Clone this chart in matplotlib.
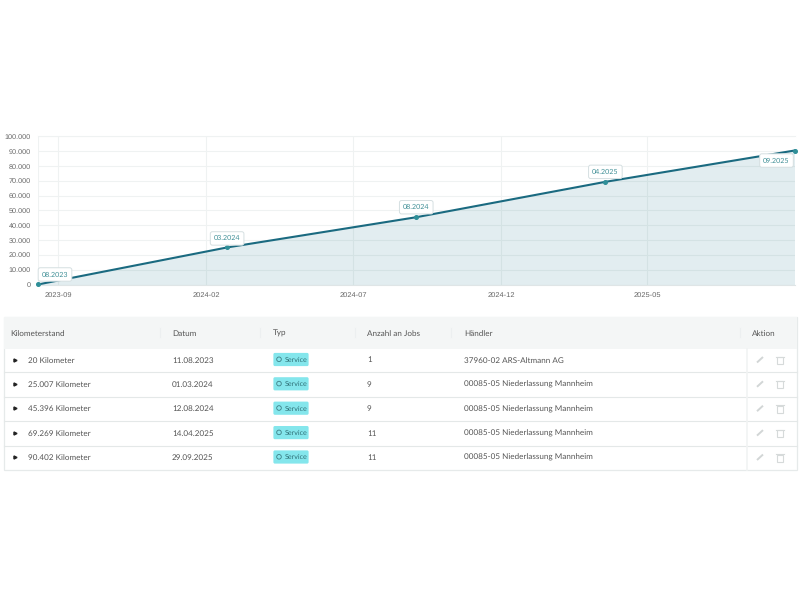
import matplotlib
matplotlib.use("Agg")
from matplotlib import pyplot as plt
from matplotlib.patches import Rectangle, FancyBboxPatch, Circle

plt.rcParams['font.family'] = ['Lato', 'DejaVu Sans']
plt.rcParams['text.hinting'] = 'no_hinting'

# chart data
punkt_pos = [0, 1, 2, 3, 4]
km_stand = [20, 25007, 45396, 69269, 90402]
punkt_labels = ["08.2023", "03.2024", "08.2024", "04.2025", "09.2025"]
label_offset = [(17, 10), (0, 9), (0, 10), (0, 10), (-18, -10)]

y_ticks = [0, 10000, 20000, 30000, 40000, 50000, 60000, 70000, 80000, 90000, 100000]
y_labels = ["0", "10.000", "20.000", "30.000", "40.000", "50.000", "60.000", "70.000", "80.000", "90.000", "100.000"]
x_ticks = [0.106, 0.888, 1.666, 2.448, 3.22]
x_labels = ["2023-09", "2024-02", "2024-07", "2024-12", "2025-05"]

# table data
spalten = ["Kilometerstand", "Datum", "Typ", "Anzahl an Jobs", "Händler", "Aktion"]
kilometer = ["20 Kilometer", "25.007 Kilometer", "45.396 Kilometer", "69.269 Kilometer", "90.402 Kilometer"]
datum = ["11.08.2023", "01.03.2024", "12.08.2024", "14.04.2025", "29.09.2025"]
typ = ["Service", "Service", "Service", "Service", "Service"]
jobs = ["1", "9", "9", "11", "11"]
haendler = ["37960-02 ARS-Altmann AG", "00085-05 Niederlassung Mannheim", "00085-05 Niederlassung Mannheim",
            "00085-05 Niederlassung Mannheim", "00085-05 Niederlassung Mannheim"]

W = 800
H = 600
fig = plt.figure(figsize=(8, 6), dpi=100, facecolor="white")

# ------------------------------------------------------------------
# chart
L, R, T, B = 38, 794.5, 136.3, 284.5
ax = fig.add_axes([L / W, 1 - B / H, (R - L) / W, (B - T) / H])
ax.set_xlim(0, 4)
ax.set_ylim(0, 100000)
for s in ax.spines.values():
    s.set_visible(False)
ax.grid(True, color="#eff2f2", linewidth=0.8)
ax.set_axisbelow(True)
ax.axvline(0, color="#eff2f2", linewidth=0.8)
ax.axhline(100000, color="#eff2f2", linewidth=0.8, clip_on=False)
ax.axhline(0, color="#dfe5e6", linewidth=0.8, clip_on=False)

ax.fill_between(punkt_pos, km_stand, 0, color="#1f7a8c", alpha=0.13, linewidth=0)
ax.plot(punkt_pos, km_stand, color="#1a6a80", linewidth=1.5, clip_on=False, zorder=3)
ax.plot(punkt_pos, km_stand, linestyle="none", marker="o", markersize=2.6, color="#2f8f98", clip_on=False, zorder=4)

ax.set_yticks(y_ticks)
ax.set_yticklabels(y_labels, family="Liberation Sans", fontsize=5.2, color="#666666")
ax.set_xticks(x_ticks)
ax.set_xticklabels(x_labels, family="Liberation Sans", fontsize=5.4, color="#666666")
ax.tick_params(length=0, axis="y", pad=5)
ax.tick_params(length=0, axis="x", pad=5.5)

for i in range(len(punkt_pos)):
    ax.annotate(punkt_labels[i], (punkt_pos[i], km_stand[i]),
                xytext=(label_offset[i][0] * 0.72, label_offset[i][1] * 0.72), textcoords="offset points",
                ha="center", va="center", fontsize=5.1, color="#3f8f96", zorder=6, annotation_clip=False,
                bbox=dict(boxstyle="round,pad=0.5,rounding_size=0.3", facecolor="white", edgecolor="#d5dfe1", linewidth=0.7))

# ------------------------------------------------------------------
# table, drawn on an overlay in pixel coordinates
tb = fig.add_axes([0, 0, 1, 1], facecolor="none")
tb.set_xlim(0, W)
tb.set_ylim(H, 0)
tb.axis("off")

spalte_x = [10, 172, 273, 367, 464, 752]
trenner_x = [160, 260, 355, 451, 740]
zeilen_y = [359.5, 383.8, 408.2, 432.6, 457]
trenn_y = [372, 396.5, 421, 445.5]
text_farbe = "#555555"
schrift = 5.9

tb.add_patch(Rectangle((4, 317), 793, 153, facecolor="white", edgecolor="#e6eaea", linewidth=0.9))
tb.add_patch(Rectangle((4, 317), 793, 32, facecolor="#f4f6f6", edgecolor="none"))

for i in range(len(spalten)):
    tb.text(spalte_x[i], 332.5, spalten[i], fontsize=schrift, color=text_farbe, va="center_baseline")
for x in trenner_x:
    tb.plot([x, x], [328, 337], color="#eceff0", linewidth=0.8)
for y in trenn_y:
    tb.plot([4, 797], [y, y], color="#e4e8e8", linewidth=0.8)
tb.plot([747, 747], [349, 470], color="#f1f3f3", linewidth=1.2)

for i in range(len(kilometer)):
    y = zeilen_y[i]
    tb.plot([14.5], [y], marker=">", markersize=2.2, color="#222222", linestyle="none")
    tb.text(28, y, kilometer[i], fontsize=schrift, color=text_farbe, va="center_baseline")
    tb.text(172, y, datum[i], fontsize=schrift, color=text_farbe, va="center_baseline")
    tb.text(367, y, jobs[i], fontsize=schrift, color=text_farbe, va="center_baseline")
    tb.text(464, y, haendler[i], fontsize=schrift, color=text_farbe, va="center_baseline")

    # badge
    tb.add_patch(FancyBboxPatch((274, y - 6), 34, 12, boxstyle="round,pad=0.6,rounding_size=1.5",
                                facecolor="#84e6ec", edgecolor="none"))
    tb.add_patch(Circle((279, y - 0.2), 2.3, facecolor="none", edgecolor="#3e7f86", linewidth=0.6))
    tb.text(284.5, y - 0.2, typ[i], fontsize=5.1, color="#2f7077", va="center_baseline")

    # icons
    tb.plot([757, 763], [y + 3, y - 2.5], color="#d2d6d6", linewidth=1.4, solid_capstyle="butt")
    tb.add_patch(Rectangle((776.5, y - 2.5), 6, 7, facecolor="none", edgecolor="#d6dada", linewidth=0.8))
    tb.plot([775.5, 783.5], [y - 3, y - 3], color="#d6dada", linewidth=0.8)

fig.savefig("out.png", dpi=100)
